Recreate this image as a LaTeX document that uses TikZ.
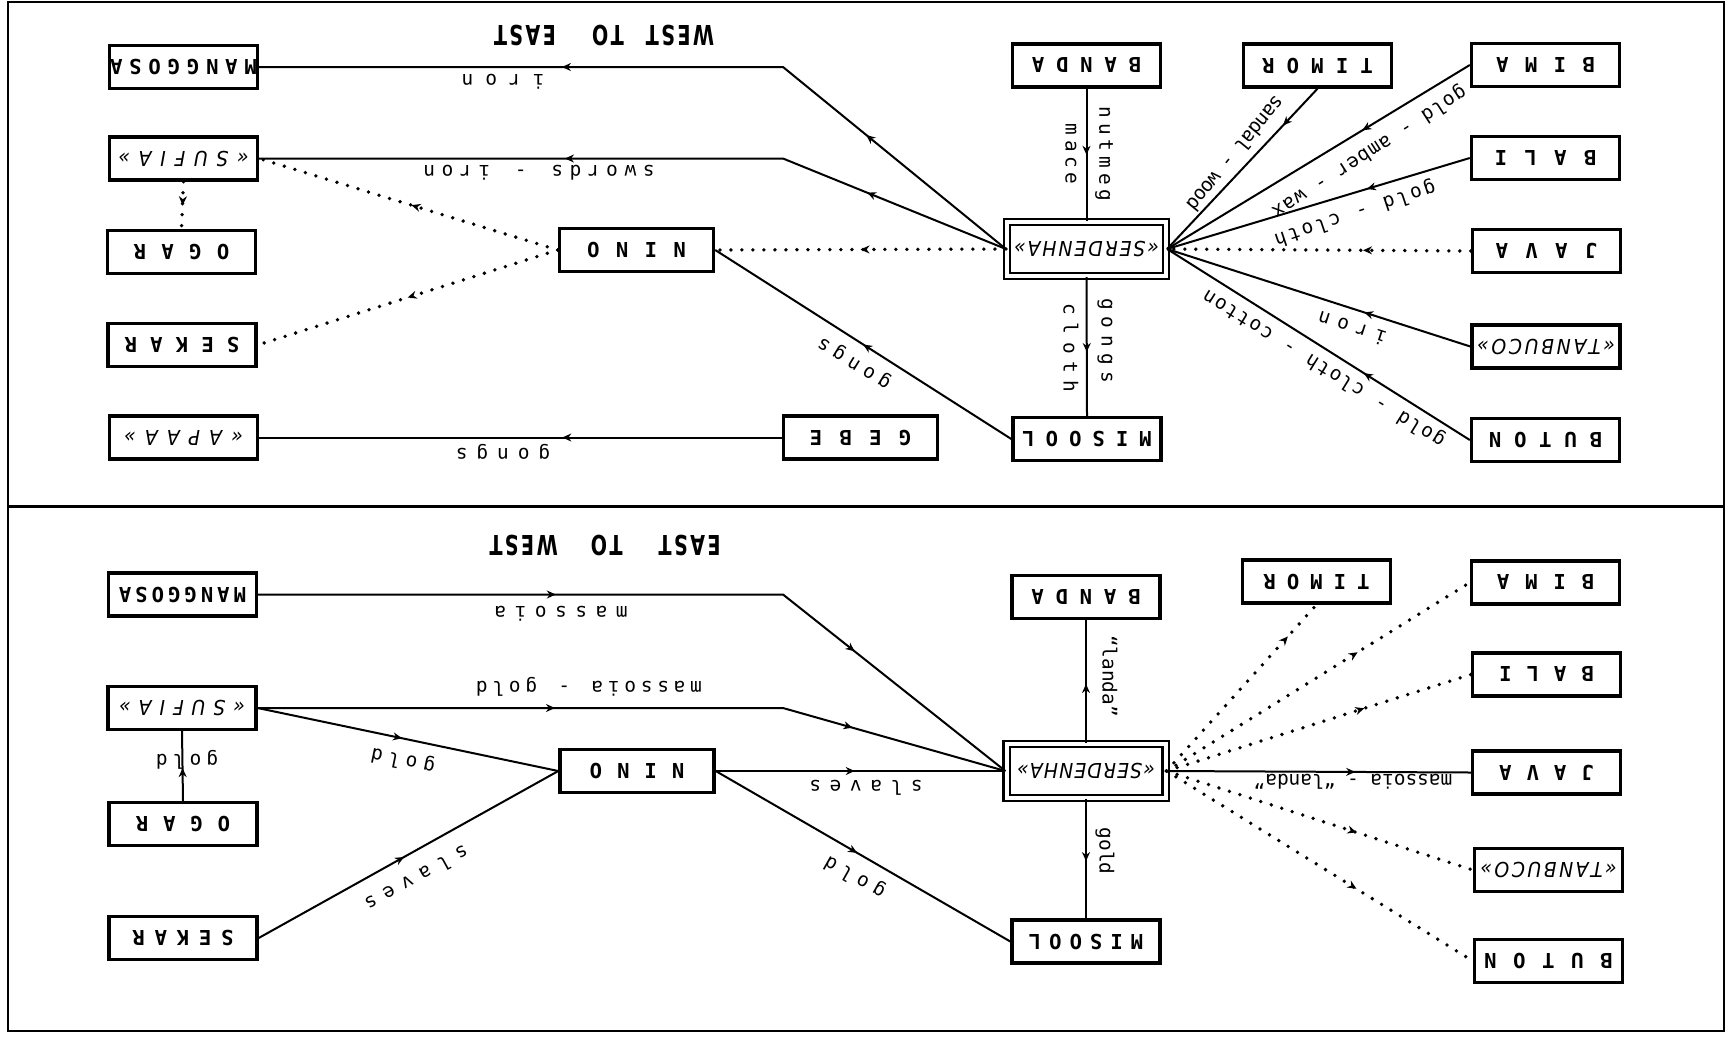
\documentclass[tikz,border=0pt]{standalone}
\usepackage{fontspec}
\usetikzlibrary{arrows.meta,decorations.markings}
\newfontfamily\boxfont{DejaVu Sans Mono}
\newfontfamily\itfont[FakeStretch=0.92]{DejaVu Sans}
\newfontfamily\lblfont{DejaVu Sans Mono}
\newfontfamily\ttlfont[FakeStretch=0.7]{DejaVu Sans}
\makeatletter
\newif\ifspcfirst
\newcommand\spc[2]{\spcfirsttrue\@tfor\spc@tok:=#2\do{\ifspcfirst\spcfirstfalse\else\kern#1\fi\spc@tok}}
\makeatother
\begin{document}
\begin{tikzpicture}[x=0.5pt,y=-0.5pt,
  box/.style={draw,line width=1.7pt,minimum width=74pt,minimum height=21.5pt,inner sep=0pt,rotate=180,
    font=\boxfont\bfseries\fontsize{10.3}{12}\selectfont},
  ibox/.style={box,font=\itfont\itshape\fontsize{10.3}{12}\selectfont},
  wide/.style={minimum width=77pt},
  serdbox/.style={ibox,double,line width=1.1pt,double distance=2pt,minimum width=79.5pt,minimum height=27pt},
  lbl/.style={inner sep=0pt,font=\lblfont\fontsize{9.7}{11}\selectfont},
  ttl/.style={inner sep=0pt,rotate=180,font=\ttlfont\bfseries\fontsize{13.7}{16}\selectfont},
  conn/.style={line width=1pt},
  dotln/.style={line width=1.9pt,dash pattern=on 0pt off 5.5pt,line cap=round},
  am/.style={postaction={decorate,decoration={markings,mark=at position #1 with {\arrow{Stealth[length=4.5pt,width=4pt]}}}}}
]
\useasboundingbox (0,0) rectangle (1730,1040);
% frame
\draw[line width=1.3pt] (8,2) rectangle (1724,1031);
\draw[line width=1.5pt] (8,506) -- (1724,506);

% ---------------- top panel ----------------
\node[ttl] (t1) at (604,35) {\spc{1.2pt}{WEST}\hspace{11pt}\spc{1.2pt}{TO}\hspace{18pt}\spc{1.2pt}{EAST}};
\node[box] (mang1) at (183.5,67) {\spc{3.4pt}{MANGGOSA}};
\node[ibox] (sufia1) at (183.5,158.5) {\spc{4.3pt}{«SUFIA»}};
\node[box] (ogar1) at (181.5,252) {\spc{7.7pt}{OGAR}};
\node[box] (sekar1) at (182,345) {\spc{6.6pt}{SEKAR}};
\node[ibox] (apaa1) at (183.5,437.5) {\spc{4.5pt}{«APAA»}};
\node[box,wide] (nino1) at (636.5,250) {\spc{8.2pt}{NINO}};
\node[box,wide] (gebe1) at (860.5,437.5) {\spc{8.7pt}{GEBE}};
\node[box] (banda1) at (1086.5,65.5) {\spc{5.9pt}{BANDA}};
\node[box] (timor1) at (1317.5,65.5) {\spc{6.1pt}{TIMOR}};
\node[box] (bima1) at (1545.5,65) {\spc{8.2pt}{BIMA}};
\node[box] (bali1) at (1545.5,158) {\spc{8.7pt}{BALI}};
\node[box] (java1) at (1546.5,251) {\spc{8.7pt}{JAVA}};
\node[ibox] (tanb1) at (1546,346.5) {\spc{1.3pt}{«TANBUCO»}};
\node[box] (buton1) at (1545.5,440) {\spc{6.4pt}{BUTON}};
\node[serdbox] (serd1) at (1086.5,249) {\spc{0.9pt}{«SERDENHA»}};
\node[box] (misool1) at (1087,439) {\spc{5.5pt}{MISOOL}};

\coordinate (b1) at (783,67);
\coordinate (b2) at (783,158.5);
\draw[conn,am=0.222,am=0.627] (serd1.east) -- (b1) -- (mang1.west);
\draw[conn,am=0.196,am=0.60] (serd1.east) -- (b2) -- (sufia1.west);
\draw[dotln,am=0.5] (serd1.east) -- (nino1.west);
\draw[dotln,am=0.49] (nino1.east) -- (sufia1.west);
\draw[dotln,am=0.5] (nino1.east) -- (sekar1.west);
\draw[dotln,am=0.5] (sufia1.north) -- (ogar1.south);
\draw[conn,am=0.42] (gebe1.east) -- (apaa1.west);
\draw[conn,am=0.5] (misool1.east) -- (nino1.west);
\draw[conn,am=0.5] (banda1.north) -- (serd1.south);
\draw[conn,am=0.54] (serd1.north) -- (misool1.south);
\draw[conn,am=0.23] (timor1.north) -- (serd1.west);
\draw[conn,am=0.355] (bima1.east) -- (serd1.west);
\draw[conn,am=0.34] (bali1.east) -- (serd1.west);
\draw[dotln,am=0.355] (java1.east) -- (serd1.west);
\draw[conn,am=0.35] (tanb1.east) -- (serd1.west);
\draw[conn,am=0.35] (buton1.east) -- (serd1.west);

\node[lbl,rotate=180] (l1) at (503,82) {\spc{6pt}{iron}};
\node[lbl,rotate=180] (l2) at (539,173) {\spc{3.3pt}{swords~-~iron}};
\node[lbl,rotate=180] (l3) at (503,452) {\spc{4.5pt}{gongs}};
\node[lbl,rotate=148.5] (l4) at (855,362) {\spc{3pt}{gongs}};
\node[lbl,rotate=-90] (l5) at (1071,154) {\spc{2.3pt}{mace}};
\node[lbl,rotate=-90] (l6) at (1104,154) {\spc{2.5pt}{nutmeg}};
\node[lbl,rotate=-90] (l7) at (1071,348) {\spc{3.8pt}{cloth}};
\node[lbl,rotate=-90] (l8) at (1105,341) {\spc{3.3pt}{gongs}};
\node[lbl,rotate=230.7] (l9) at (1236,154) {\spc{-0.4pt}{sandal~-~wood}};
\node[lbl,rotate=212.8] (l10) at (1369,152) {\spc{0.5pt}{gold~-~amber~-~wax}};
\node[lbl,rotate=198.5] (l11) at (1355,213) {\spc{1.3pt}{gold~-~cloth}};
\node[lbl,rotate=162.1] (l12) at (1352,329) {\spc{4pt}{iron}};
\node[lbl,rotate=148.2] (l13) at (1324,368) {\spc{0.9pt}{gold~-~cloth~-~cotton}};

% ---------------- bottom panel ----------------
\node[ttl] (t2) at (605,545) {\spc{1.2pt}{EAST}\hspace{18pt}\spc{1.2pt}{TO}\hspace{16.5pt}\spc{1.2pt}{WEST}};
\node[box] (mang2) at (182.5,594.5) {\spc{2pt}{MANGGOSA}};
\node[ibox] (sufia2) at (182,708) {\spc{3.9pt}{«SUFIA»}};
\node[box] (ogar2) at (183,824) {\spc{7.4pt}{OGAR}};
\node[box] (sekar2) at (183,938) {\spc{4.9pt}{SEKAR}};
\node[box,wide] (nino2) at (637,771) {\spc{7.5pt}{NINO}};
\node[box] (banda2) at (1086,597) {\spc{5.9pt}{BANDA}};
\node[box] (timor2) at (1316.5,581.5) {\spc{5.5pt}{TIMOR}};
\node[box] (bima2) at (1545.5,582.5) {\spc{7.9pt}{BIMA}};
\node[box] (bali2) at (1546.5,674.5) {\spc{7.5pt}{BALI}};
\node[box] (java2) at (1546.5,772.5) {\spc{7.5pt}{JAVA}};
\node[ibox] (tanb2) at (1548.5,870) {\spc{1.2pt}{«TANBUCO»}};
\node[box] (buton2) at (1548.5,961) {\spc{8.3pt}{BUTON}};
\node[serdbox] (serd2) at (1086,771) {\spc{0.5pt}{«SERDENHA»}};
\node[box] (misool2) at (1086,941.5) {\spc{4pt}{MISOOL}};

\coordinate (b3) at (783,594.5);
\coordinate (b4) at (783,708);
\draw[conn,am=0.368,am=0.762] (mang2.west) -- (b3) -- (serd2.east);
\draw[conn,am=0.393,am=0.79] (sufia2.west) -- (b4) -- (serd2.east);
\draw[conn,am=0.48] (sufia2.west) -- (nino2.east);
\draw[conn,am=0.47] (ogar2.south) -- (sufia2.north);
\draw[conn,am=0.485] (sekar2.west) -- (nino2.east);
\draw[conn,am=0.48] (nino2.west) -- (serd2.east);
\draw[conn,am=0.48] (nino2.west) -- (misool2.east);
\draw[conn,am=0.48] (serd2.south) -- (banda2.north);
\draw[conn,am=0.52] (serd2.north) -- (misool2.south);
\draw[conn,am=0.62] (serd2.west) -- (java2.east);
\draw[dotln,am=0.81] (serd2.west) -- (timor2.north);
\draw[dotln,am=0.63] (serd2.west) -- (bima2.east);
\draw[dotln,am=0.65] (serd2.west) -- (bali2.east);
\draw[dotln,am=0.62] (serd2.west) -- (tanb2.east);
\draw[dotln,am=0.62] (serd2.west) -- (buton2.east);

\node[lbl,rotate=180] (m1) at (561,614) {\spc{4.3pt}{massoia}};
\node[lbl,rotate=180] (m2) at (589,687) {\spc{2.4pt}{massoia~-~gold}};
\node[lbl,rotate=168.3] (m3) at (403,760) {\spc{3pt}{gold}};
\node[lbl,rotate=180] (m4) at (187,760) {\spc{2.6pt}{gold}};
\node[lbl,rotate=208.8] (m5) at (417,879) {\spc{4.5pt}{slaves}};
\node[lbl,rotate=180] (m6) at (866,788) {\spc{4.3pt}{slaves}};
\node[lbl,rotate=150.4] (m7) at (855,877) {\spc{3.3pt}{gold}};
\node[lbl,rotate=-90] (m8) at (1110,676) {\spc{0pt}{“landa”}};
\node[lbl,rotate=-90] (m9) at (1105,851) {\spc{0pt}{gold}};
\node[lbl,rotate=180] (m10) at (1353,782) {\spc{0pt}{massoia~-~“landa”}};
\end{tikzpicture}
\end{document}
